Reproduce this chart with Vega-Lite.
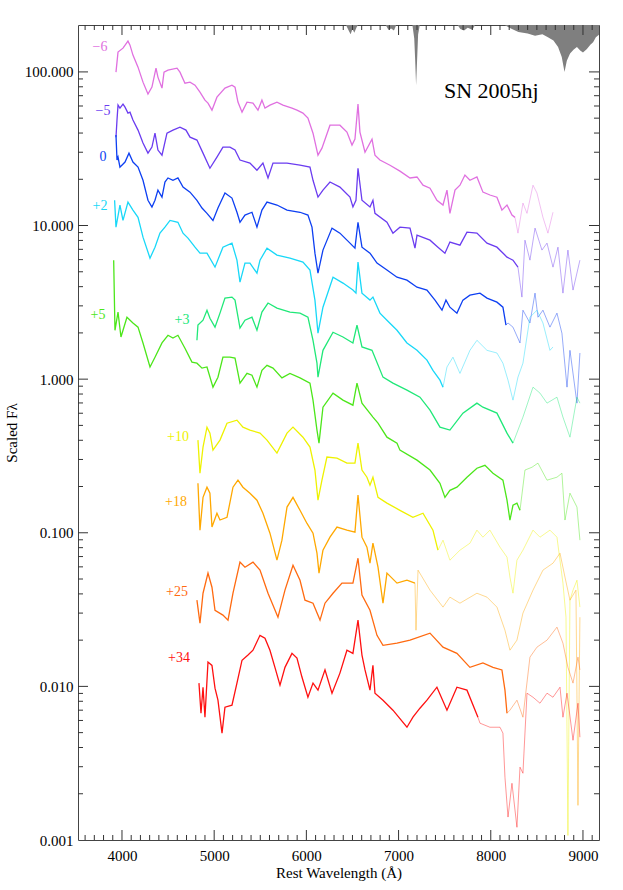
{
"$schema":"https://vega.github.io/schema/vega-lite/v6.json",
"width":521,"height":815,
"autosize":{"type":"none"},
"padding":{"left":78,"top":25,"right":24,"bottom":50},
"background":"white",
"config":{"view":{"stroke":"#444","strokeWidth":1},"font":"Liberation Serif","axis":{"grid":false,"ticks":false,"domain":false}},
"datasets":{
"xt":[{"w":3600,"m":"m"},{"w":3700,"m":"m"},{"w":3800,"m":"m"},{"w":3900,"m":"m"},{"w":4000,"m":"M"},{"w":4100,"m":"m"},{"w":4200,"m":"m"},{"w":4300,"m":"m"},{"w":4400,"m":"m"},{"w":4500,"m":"m"},{"w":4600,"m":"m"},{"w":4700,"m":"m"},{"w":4800,"m":"m"},{"w":4900,"m":"m"},{"w":5000,"m":"M"},{"w":5100,"m":"m"},{"w":5200,"m":"m"},{"w":5300,"m":"m"},{"w":5400,"m":"m"},{"w":5500,"m":"m"},{"w":5600,"m":"m"},{"w":5700,"m":"m"},{"w":5800,"m":"m"},{"w":5900,"m":"m"},{"w":6000,"m":"M"},{"w":6100,"m":"m"},{"w":6200,"m":"m"},{"w":6300,"m":"m"},{"w":6400,"m":"m"},{"w":6500,"m":"m"},{"w":6600,"m":"m"},{"w":6700,"m":"m"},{"w":6800,"m":"m"},{"w":6900,"m":"m"},{"w":7000,"m":"M"},{"w":7100,"m":"m"},{"w":7200,"m":"m"},{"w":7300,"m":"m"},{"w":7400,"m":"m"},{"w":7500,"m":"m"},{"w":7600,"m":"m"},{"w":7700,"m":"m"},{"w":7800,"m":"m"},{"w":7900,"m":"m"},{"w":8000,"m":"M"},{"w":8100,"m":"m"},{"w":8200,"m":"m"},{"w":8300,"m":"m"},{"w":8400,"m":"m"},{"w":8500,"m":"m"},{"w":8600,"m":"m"},{"w":8700,"m":"m"},{"w":8800,"m":"m"},{"w":8900,"m":"m"},{"w":9000,"m":"M"},{"w":9100,"m":"m"}],
"yt":[{"f":0.002,"m":"m"},{"f":0.003,"m":"m"},{"f":0.004,"m":"m"},{"f":0.005,"m":"m"},{"f":0.006,"m":"m"},{"f":0.007,"m":"m"},{"f":0.008,"m":"m"},{"f":0.009,"m":"m"},{"f":0.01,"m":"M"},{"f":0.02,"m":"m"},{"f":0.03,"m":"m"},{"f":0.04,"m":"m"},{"f":0.05,"m":"m"},{"f":0.06,"m":"m"},{"f":0.07,"m":"m"},{"f":0.08,"m":"m"},{"f":0.09,"m":"m"},{"f":0.1,"m":"M"},{"f":0.2,"m":"m"},{"f":0.3,"m":"m"},{"f":0.4,"m":"m"},{"f":0.5,"m":"m"},{"f":0.6,"m":"m"},{"f":0.7,"m":"m"},{"f":0.8,"m":"m"},{"f":0.9,"m":"m"},{"f":1,"m":"M"},{"f":2,"m":"m"},{"f":3,"m":"m"},{"f":4,"m":"m"},{"f":5,"m":"m"},{"f":6,"m":"m"},{"f":7,"m":"m"},{"f":8,"m":"m"},{"f":9,"m":"m"},{"f":10,"m":"M"},{"f":20,"m":"m"},{"f":30,"m":"m"},{"f":40,"m":"m"},{"f":50,"m":"m"},{"f":60,"m":"m"},{"f":70,"m":"m"},{"f":80,"m":"m"},{"f":90,"m":"m"},{"f":100,"m":"M"}],
"tell":[{"w":6430,"f":202},{"w":6460,"f":185},{"w":6480,"f":176},{"w":6500,"f":190},{"w":6520,"f":180},{"w":6545,"f":195},{"w":6560,"f":202},{"w":6860,"f":202},{"w":6890,"f":188},{"w":6920,"f":192},{"w":6950,"f":186},{"w":6975,"f":202},{"w":7150,"f":202},{"w":7170,"f":165},{"w":7180,"f":120},{"w":7190,"f":82},{"w":7200,"f":115},{"w":7212,"f":175},{"w":7230,"f":202},{"w":7640,"f":202},{"w":7670,"f":190},{"w":7710,"f":186},{"w":7750,"f":194},{"w":7800,"f":188},{"w":7830,"f":202},{"w":8150,"f":202},{"w":8230,"f":190},{"w":8300,"f":182},{"w":8400,"f":178},{"w":8480,"f":172},{"w":8560,"f":176},{"w":8620,"f":168},{"w":8680,"f":160},{"w":8730,"f":145},{"w":8770,"f":125},{"w":8800,"f":100},{"w":8825,"f":118},{"w":8860,"f":132},{"w":8900,"f":140},{"w":8935,"f":145},{"w":8970,"f":138},{"w":9000,"f":134},{"w":9043,"f":141},{"w":9080,"f":150},{"w":9110,"f":156},{"w":9140,"f":168},{"w":9180,"f":176}],
"lab":[{"t":"−6","e":"-6","w":3761,"f":145},{"t":"−5","e":"-5","w":3794,"f":55.6},{"t":"0","e":"0","w":3794,"f":27.9},{"t":"+2","e":"+2","w":3761,"f":13.4},{"t":"+5","e":"+5","w":3740,"f":2.61},{"t":"+3","e":"+3","w":4651,"f":2.42},{"t":"+10","e":"+10","w":4607,"f":0.419},{"t":"+18","e":"+18","w":4586,"f":0.158},{"t":"+25","e":"+25","w":4597,"f":0.041},{"t":"+34","e":"+34","w":4618,"f":0.0153}],
"sn":[{"t":"SN 2005hj","w":7492,"f":67.5}],
"spec":[
{"e":"-6","p":"a","w":3935,"f":99.7},{"e":"-6","p":"a","w":3957,"f":134.6},{"e":"-6","p":"a","w":4011,"f":142.8},{"e":"-6","p":"a","w":4065,"f":158.7},{"e":"-6","p":"a","w":4087,"f":149.4},{"e":"-6","p":"a","w":4119,"f":128.6},{"e":"-6","p":"a","w":4174,"f":107.4},{"e":"-6","p":"a","w":4228,"f":85.8},{"e":"-6","p":"a","w":4282,"f":71.7},{"e":"-6","p":"a","w":4325,"f":79.6},{"e":"-6","p":"a","w":4369,"f":105.8},{"e":"-6","p":"a","w":4390,"f":92.5},{"e":"-6","p":"a","w":4434,"f":78.4},{"e":"-6","p":"a","w":4456,"f":99.7},{"e":"-6","p":"a","w":4499,"f":102.7},{"e":"-6","p":"a","w":4597,"f":105.8},{"e":"-6","p":"a","w":4629,"f":99.7},{"e":"-6","p":"a","w":4683,"f":84.5},{"e":"-6","p":"a","w":4738,"f":85.8},{"e":"-6","p":"a","w":4792,"f":82.0},{"e":"-6","p":"a","w":4846,"f":73.9},{"e":"-6","p":"a","w":4900,"f":65.5},{"e":"-6","p":"a","w":4933,"f":62.6},{"e":"-6","p":"a","w":4976,"f":56.4},{"e":"-6","p":"a","w":5030,"f":68.5},{"e":"-6","p":"a","w":5117,"f":78.4},{"e":"-6","p":"a","w":5193,"f":82.0},{"e":"-6","p":"a","w":5226,"f":79.6},{"e":"-6","p":"a","w":5258,"f":63.6},{"e":"-6","p":"a","w":5302,"f":54.7},{"e":"-6","p":"a","w":5356,"f":63.6},{"e":"-6","p":"a","w":5421,"f":62.6},{"e":"-6","p":"a","w":5475,"f":56.4},{"e":"-6","p":"a","w":5518,"f":65.5},{"e":"-6","p":"a","w":5551,"f":58.1},{"e":"-6","p":"a","w":5605,"f":60.8},{"e":"-6","p":"a","w":5681,"f":63.6},{"e":"-6","p":"a","w":5746,"f":60.8},{"e":"-6","p":"a","w":5844,"f":58.1},{"e":"-6","p":"a","w":5898,"f":56.4},{"e":"-6","p":"a","w":5963,"f":53.9},{"e":"-6","p":"a","w":6017,"f":50.0},{"e":"-6","p":"a","w":6072,"f":39.9},{"e":"-6","p":"a","w":6126,"f":28.7},{"e":"-6","p":"a","w":6169,"f":31.9},{"e":"-6","p":"a","w":6256,"f":45.0},{"e":"-6","p":"a","w":6364,"f":45.0},{"e":"-6","p":"a","w":6440,"f":40.6},{"e":"-6","p":"a","w":6495,"f":33.4},{"e":"-6","p":"a","w":6527,"f":36.5},{"e":"-6","p":"a","w":6560,"f":61.7},{"e":"-6","p":"a","w":6581,"f":40.6},{"e":"-6","p":"a","w":6636,"f":30.0},{"e":"-6","p":"a","w":6712,"f":36.5},{"e":"-6","p":"a","w":6744,"f":28.7},{"e":"-6","p":"a","w":6798,"f":26.7},{"e":"-6","p":"a","w":6907,"f":24.7},{"e":"-6","p":"a","w":7015,"f":22.6},{"e":"-6","p":"a","w":7124,"f":20.4},{"e":"-6","p":"a","w":7200,"f":20.7},{"e":"-6","p":"a","w":7265,"f":18.3},{"e":"-6","p":"a","w":7341,"f":17.5},{"e":"-6","p":"a","w":7416,"f":14.6},{"e":"-6","p":"a","w":7482,"f":13.6},{"e":"-6","p":"a","w":7525,"f":17.0},{"e":"-6","p":"a","w":7557,"f":12.0},{"e":"-6","p":"a","w":7612,"f":17.0},{"e":"-6","p":"a","w":7666,"f":18.3},{"e":"-6","p":"a","w":7720,"f":21.3},{"e":"-6","p":"a","w":7774,"f":19.7},{"e":"-6","p":"a","w":7850,"f":20.7},{"e":"-6","p":"a","w":7915,"f":16.5},{"e":"-6","p":"a","w":7991,"f":15.8},{"e":"-6","p":"a","w":8067,"f":15.3},{"e":"-6","p":"a","w":8121,"f":12.6},{"e":"-6","p":"a","w":8176,"f":13.6},{"e":"-6","p":"a","w":8230,"f":11.7},{"e":"-6","p":"a","w":8263,"f":11.3},
{"e":"-6","p":"b","w":8263,"f":11.3},{"e":"-6","p":"b","w":8295,"f":8.92},{"e":"-6","p":"b","w":8349,"f":14.0},{"e":"-6","p":"b","w":8393,"f":12.0},{"e":"-6","p":"b","w":8458,"f":18.3},{"e":"-6","p":"b","w":8501,"f":16.3},{"e":"-6","p":"b","w":8566,"f":11.3},{"e":"-6","p":"b","w":8620,"f":8.92},{"e":"-6","p":"b","w":8675,"f":12.2},
{"e":"-5","p":"a","w":3935,"f":37.6},{"e":"-5","p":"a","w":3946,"f":48.6},{"e":"-5","p":"a","w":3957,"f":60.8},{"e":"-5","p":"a","w":3978,"f":58.1},{"e":"-5","p":"a","w":4011,"f":61.7},{"e":"-5","p":"a","w":4033,"f":59.0},{"e":"-5","p":"a","w":4065,"f":53.9},{"e":"-5","p":"a","w":4087,"f":54.7},{"e":"-5","p":"a","w":4119,"f":48.6},{"e":"-5","p":"a","w":4174,"f":41.8},{"e":"-5","p":"a","w":4228,"f":34.4},{"e":"-5","p":"a","w":4282,"f":29.6},{"e":"-5","p":"a","w":4325,"f":32.4},{"e":"-5","p":"a","w":4358,"f":39.9},{"e":"-5","p":"a","w":4390,"f":31.0},{"e":"-5","p":"a","w":4434,"f":28.7},{"e":"-5","p":"a","w":4488,"f":39.9},{"e":"-5","p":"a","w":4553,"f":41.8},{"e":"-5","p":"a","w":4629,"f":43.7},{"e":"-5","p":"a","w":4694,"f":41.8},{"e":"-5","p":"a","w":4738,"f":37.6},{"e":"-5","p":"a","w":4813,"f":36.0},{"e":"-5","p":"a","w":4879,"f":29.6},{"e":"-5","p":"a","w":4954,"f":23.6},{"e":"-5","p":"a","w":5030,"f":27.9},{"e":"-5","p":"a","w":5095,"f":32.4},{"e":"-5","p":"a","w":5171,"f":32.4},{"e":"-5","p":"a","w":5226,"f":31.0},{"e":"-5","p":"a","w":5280,"f":26.7},{"e":"-5","p":"a","w":5388,"f":25.5},{"e":"-5","p":"a","w":5464,"f":22.9},{"e":"-5","p":"a","w":5529,"f":25.5},{"e":"-5","p":"a","w":5584,"f":20.4},{"e":"-5","p":"a","w":5638,"f":25.5},{"e":"-5","p":"a","w":5790,"f":25.5},{"e":"-5","p":"a","w":5931,"f":24.7},{"e":"-5","p":"a","w":6039,"f":24.0},{"e":"-5","p":"a","w":6072,"f":19.7},{"e":"-5","p":"a","w":6126,"f":15.3},{"e":"-5","p":"a","w":6180,"f":17.0},{"e":"-5","p":"a","w":6256,"f":19.2},{"e":"-5","p":"a","w":6364,"f":17.8},{"e":"-5","p":"a","w":6473,"f":15.3},{"e":"-5","p":"a","w":6505,"f":13.2},{"e":"-5","p":"a","w":6538,"f":14.6},{"e":"-5","p":"a","w":6560,"f":23.6},{"e":"-5","p":"a","w":6603,"f":14.6},{"e":"-5","p":"a","w":6690,"f":13.2},{"e":"-5","p":"a","w":6722,"f":14.6},{"e":"-5","p":"a","w":6744,"f":12.0},{"e":"-5","p":"a","w":6874,"f":10.5},{"e":"-5","p":"a","w":6939,"f":8.92},{"e":"-5","p":"a","w":7015,"f":9.76},{"e":"-5","p":"a","w":7124,"f":9.62},{"e":"-5","p":"a","w":7178,"f":7.12},{"e":"-5","p":"a","w":7200,"f":8.66},{"e":"-5","p":"a","w":7341,"f":8.03},{"e":"-5","p":"a","w":7427,"f":7.23},{"e":"-5","p":"a","w":7503,"f":6.61},{"e":"-5","p":"a","w":7557,"f":7.80},{"e":"-5","p":"a","w":7666,"f":7.45},{"e":"-5","p":"a","w":7742,"f":9.06},{"e":"-5","p":"a","w":7850,"f":8.92},{"e":"-5","p":"a","w":7959,"f":7.68},{"e":"-5","p":"a","w":8067,"f":7.23},{"e":"-5","p":"a","w":8176,"f":6.23},{"e":"-5","p":"a","w":8241,"f":5.95},{"e":"-5","p":"a","w":8295,"f":5.36},
{"e":"-5","p":"b","w":8295,"f":5.36},{"e":"-5","p":"b","w":8338,"f":3.42},{"e":"-5","p":"b","w":8371,"f":8.03},{"e":"-5","p":"b","w":8425,"f":5.95},{"e":"-5","p":"b","w":8480,"f":9.62},{"e":"-5","p":"b","w":8555,"f":6.92},{"e":"-5","p":"b","w":8610,"f":7.68},{"e":"-5","p":"b","w":8675,"f":5.36},{"e":"-5","p":"b","w":8729,"f":7.23},{"e":"-5","p":"b","w":8783,"f":3.63},{"e":"-5","p":"b","w":8837,"f":6.92},{"e":"-5","p":"b","w":8892,"f":3.80},{"e":"-5","p":"b","w":8967,"f":5.95},
{"e":"0","p":"a","w":3935,"f":38.8},{"e":"0","p":"a","w":3946,"f":26.7},{"e":"0","p":"a","w":3957,"f":27.9},{"e":"0","p":"a","w":3978,"f":24.0},{"e":"0","p":"a","w":4033,"f":25.9},{"e":"0","p":"a","w":4076,"f":29.6},{"e":"0","p":"a","w":4119,"f":25.9},{"e":"0","p":"a","w":4174,"f":24.0},{"e":"0","p":"a","w":4228,"f":19.7},{"e":"0","p":"a","w":4282,"f":14.6},{"e":"0","p":"a","w":4325,"f":13.2},{"e":"0","p":"a","w":4358,"f":14.6},{"e":"0","p":"a","w":4390,"f":17.0},{"e":"0","p":"a","w":4434,"f":15.3},{"e":"0","p":"a","w":4466,"f":19.2},{"e":"0","p":"a","w":4499,"f":20.4},{"e":"0","p":"a","w":4553,"f":19.7},{"e":"0","p":"a","w":4607,"f":20.4},{"e":"0","p":"a","w":4662,"f":17.8},{"e":"0","p":"a","w":4738,"f":16.5},{"e":"0","p":"a","w":4813,"f":14.6},{"e":"0","p":"a","w":4868,"f":13.0},{"e":"0","p":"a","w":4922,"f":12.0},{"e":"0","p":"a","w":4987,"f":10.8},{"e":"0","p":"a","w":5041,"f":13.0},{"e":"0","p":"a","w":5117,"f":16.3},{"e":"0","p":"a","w":5193,"f":15.1},{"e":"0","p":"a","w":5247,"f":12.2},{"e":"0","p":"a","w":5280,"f":10.5},{"e":"0","p":"a","w":5334,"f":11.7},{"e":"0","p":"a","w":5410,"f":12.2},{"e":"0","p":"a","w":5464,"f":9.76},{"e":"0","p":"a","w":5518,"f":12.6},{"e":"0","p":"a","w":5573,"f":14.2},{"e":"0","p":"a","w":5681,"f":13.6},{"e":"0","p":"a","w":5790,"f":12.6},{"e":"0","p":"a","w":5931,"f":12.2},{"e":"0","p":"a","w":6017,"f":11.7},{"e":"0","p":"a","w":6061,"f":9.76},{"e":"0","p":"a","w":6093,"f":6.61},{"e":"0","p":"a","w":6126,"f":4.90},{"e":"0","p":"a","w":6180,"f":6.92},{"e":"0","p":"a","w":6278,"f":9.62},{"e":"0","p":"a","w":6364,"f":8.92},{"e":"0","p":"a","w":6473,"f":7.68},{"e":"0","p":"a","w":6527,"f":7.12},{"e":"0","p":"a","w":6560,"f":10.5},{"e":"0","p":"a","w":6603,"f":7.23},{"e":"0","p":"a","w":6690,"f":6.61},{"e":"0","p":"a","w":6766,"f":5.69},{"e":"0","p":"a","w":6874,"f":5.13},{"e":"0","p":"a","w":6983,"f":4.61},{"e":"0","p":"a","w":7091,"f":4.41},{"e":"0","p":"a","w":7200,"f":3.97},{"e":"0","p":"a","w":7308,"f":3.80},{"e":"0","p":"a","w":7395,"f":3.27},{"e":"0","p":"a","w":7471,"f":2.81},{"e":"0","p":"a","w":7514,"f":3.27},{"e":"0","p":"a","w":7557,"f":2.94},{"e":"0","p":"a","w":7633,"f":2.69},{"e":"0","p":"a","w":7698,"f":3.27},{"e":"0","p":"a","w":7774,"f":3.52},{"e":"0","p":"a","w":7883,"f":3.63},{"e":"0","p":"a","w":7959,"f":3.37},{"e":"0","p":"a","w":8067,"f":3.17},{"e":"0","p":"a","w":8132,"f":2.94},{"e":"0","p":"a","w":8165,"f":2.25},
{"e":"0","p":"b","w":8165,"f":2.25},{"e":"0","p":"b","w":8187,"f":2.32},{"e":"0","p":"b","w":8241,"f":2.18},{"e":"0","p":"b","w":8317,"f":1.72},{"e":"0","p":"b","w":8349,"f":2.81},{"e":"0","p":"b","w":8425,"f":2.32},{"e":"0","p":"b","w":8480,"f":3.63},{"e":"0","p":"b","w":8512,"f":2.53},{"e":"0","p":"b","w":8566,"f":2.81},{"e":"0","p":"b","w":8642,"f":2.18},{"e":"0","p":"b","w":8718,"f":2.69},{"e":"0","p":"b","w":8772,"f":1.99},{"e":"0","p":"b","w":8827,"f":0.887},{"e":"0","p":"b","w":8859,"f":1.54},{"e":"0","p":"b","w":8935,"f":0.698},{"e":"0","p":"b","w":8967,"f":1.48},
{"e":"+2","p":"a","w":3920,"f":14.6},{"e":"+2","p":"a","w":3935,"f":9.76},{"e":"+2","p":"a","w":3978,"f":13.6},{"e":"+2","p":"a","w":4011,"f":10.8},{"e":"+2","p":"a","w":4065,"f":14.2},{"e":"+2","p":"a","w":4119,"f":12.6},{"e":"+2","p":"a","w":4174,"f":11.3},{"e":"+2","p":"a","w":4228,"f":8.40},{"e":"+2","p":"a","w":4304,"f":6.13},{"e":"+2","p":"a","w":4358,"f":7.23},{"e":"+2","p":"a","w":4412,"f":8.92},{"e":"+2","p":"a","w":4466,"f":9.76},{"e":"+2","p":"a","w":4521,"f":10.8},{"e":"+2","p":"a","w":4607,"f":10.5},{"e":"+2","p":"a","w":4662,"f":8.92},{"e":"+2","p":"a","w":4716,"f":8.28},{"e":"+2","p":"a","w":4792,"f":7.23},{"e":"+2","p":"a","w":4846,"f":6.61},{"e":"+2","p":"a","w":4922,"f":6.61},{"e":"+2","p":"a","w":5009,"f":5.36},{"e":"+2","p":"a","w":5095,"f":7.23},{"e":"+2","p":"a","w":5193,"f":7.68},{"e":"+2","p":"a","w":5247,"f":5.95},{"e":"+2","p":"a","w":5280,"f":4.28},{"e":"+2","p":"a","w":5334,"f":5.69},{"e":"+2","p":"a","w":5388,"f":5.69},{"e":"+2","p":"a","w":5464,"f":4.90},{"e":"+2","p":"a","w":5497,"f":5.95},{"e":"+2","p":"a","w":5573,"f":7.12},{"e":"+2","p":"a","w":5681,"f":6.42},{"e":"+2","p":"a","w":5822,"f":6.13},{"e":"+2","p":"a","w":5963,"f":5.78},{"e":"+2","p":"a","w":6039,"f":5.13},{"e":"+2","p":"a","w":6093,"f":3.27},{"e":"+2","p":"a","w":6126,"f":1.99},{"e":"+2","p":"a","w":6180,"f":2.94},{"e":"+2","p":"a","w":6289,"f":4.61},{"e":"+2","p":"a","w":6397,"f":4.22},{"e":"+2","p":"a","w":6505,"f":3.80},{"e":"+2","p":"a","w":6538,"f":3.63},{"e":"+2","p":"a","w":6560,"f":5.78},{"e":"+2","p":"a","w":6603,"f":3.63},{"e":"+2","p":"a","w":6690,"f":3.27},{"e":"+2","p":"a","w":6722,"f":3.42},{"e":"+2","p":"a","w":6798,"f":2.69},{"e":"+2","p":"a","w":6874,"f":2.42},{"e":"+2","p":"a","w":6983,"f":2.08},{"e":"+2","p":"a","w":7091,"f":1.72},{"e":"+2","p":"a","w":7200,"f":1.54},{"e":"+2","p":"a","w":7308,"f":1.33},{"e":"+2","p":"a","w":7373,"f":1.14},{"e":"+2","p":"a","w":7449,"f":0.985},{"e":"+2","p":"a","w":7482,"f":0.887},
{"e":"+2","p":"b","w":7482,"f":0.887},{"e":"+2","p":"b","w":7525,"f":1.20},{"e":"+2","p":"b","w":7590,"f":1.39},{"e":"+2","p":"b","w":7666,"f":1.09},{"e":"+2","p":"b","w":7774,"f":1.54},{"e":"+2","p":"b","w":7850,"f":1.79},{"e":"+2","p":"b","w":7959,"f":1.54},{"e":"+2","p":"b","w":8067,"f":1.48},{"e":"+2","p":"b","w":8132,"f":1.27},{"e":"+2","p":"b","w":8187,"f":0.985},{"e":"+2","p":"b","w":8241,"f":0.730},{"e":"+2","p":"b","w":8295,"f":1.03},{"e":"+2","p":"b","w":8349,"f":1.27},{"e":"+2","p":"b","w":8425,"f":2.53},{"e":"+2","p":"b","w":8501,"f":2.81},{"e":"+2","p":"b","w":8566,"f":2.32},{"e":"+2","p":"b","w":8642,"f":1.54},{"e":"+2","p":"b","w":8675,"f":1.62},
{"e":"+5","p":"a","w":3910,"f":5.95},{"e":"+5","p":"a","w":3924,"f":2.08},{"e":"+5","p":"a","w":3957,"f":2.73},{"e":"+5","p":"a","w":3989,"f":1.88},{"e":"+5","p":"a","w":4054,"f":2.53},{"e":"+5","p":"a","w":4119,"f":2.32},{"e":"+5","p":"a","w":4174,"f":2.18},{"e":"+5","p":"a","w":4228,"f":1.72},{"e":"+5","p":"a","w":4304,"f":1.20},{"e":"+5","p":"a","w":4358,"f":1.39},{"e":"+5","p":"a","w":4434,"f":1.72},{"e":"+5","p":"a","w":4499,"f":1.93},{"e":"+5","p":"a","w":4553,"f":1.85},{"e":"+5","p":"a","w":4607,"f":1.93},{"e":"+5","p":"a","w":4683,"f":1.59},{"e":"+5","p":"a","w":4759,"f":1.29},{"e":"+5","p":"a","w":4813,"f":1.27},{"e":"+5","p":"a","w":4868,"f":1.18},{"e":"+5","p":"a","w":4922,"f":1.20},{"e":"+5","p":"a","w":4987,"f":0.887},{"e":"+5","p":"a","w":5041,"f":1.03},{"e":"+5","p":"a","w":5095,"f":1.39},{"e":"+5","p":"a","w":5171,"f":1.39},{"e":"+5","p":"a","w":5226,"f":1.37},{"e":"+5","p":"a","w":5280,"f":0.942},{"e":"+5","p":"a","w":5356,"f":1.09},{"e":"+5","p":"a","w":5410,"f":1.06},{"e":"+5","p":"a","w":5464,"f":0.887},{"e":"+5","p":"a","w":5518,"f":1.14},{"e":"+5","p":"a","w":5573,"f":1.23},{"e":"+5","p":"a","w":5638,"f":1.18},{"e":"+5","p":"a","w":5735,"f":1.02},{"e":"+5","p":"a","w":5822,"f":1.09},{"e":"+5","p":"a","w":5931,"f":1.02},{"e":"+5","p":"a","w":6039,"f":0.942},{"e":"+5","p":"a","w":6072,"f":0.730},{"e":"+5","p":"a","w":6115,"f":0.466},{"e":"+5","p":"a","w":6137,"f":0.383},{"e":"+5","p":"a","w":6180,"f":0.657},{"e":"+5","p":"a","w":6289,"f":0.811},{"e":"+5","p":"a","w":6397,"f":0.730},{"e":"+5","p":"a","w":6505,"f":0.677},{"e":"+5","p":"a","w":6549,"f":0.942},{"e":"+5","p":"a","w":6603,"f":0.698},{"e":"+5","p":"a","w":6722,"f":0.566},{"e":"+5","p":"a","w":6777,"f":0.517},{"e":"+5","p":"a","w":6874,"f":0.419},{"e":"+5","p":"a","w":6983,"f":0.383},{"e":"+5","p":"a","w":7015,"f":0.345},{"e":"+5","p":"a","w":7200,"f":0.297},{"e":"+5","p":"a","w":7341,"f":0.256},{"e":"+5","p":"a","w":7449,"f":0.210},{"e":"+5","p":"a","w":7503,"f":0.170},{"e":"+5","p":"a","w":7557,"f":0.189},{"e":"+5","p":"a","w":7633,"f":0.198},{"e":"+5","p":"a","w":7742,"f":0.230},{"e":"+5","p":"a","w":7850,"f":0.263},{"e":"+5","p":"a","w":7937,"f":0.275},{"e":"+5","p":"a","w":8024,"f":0.244},{"e":"+5","p":"a","w":8132,"f":0.220},{"e":"+5","p":"a","w":8176,"f":0.163},{"e":"+5","p":"a","w":8208,"f":0.121},{"e":"+5","p":"a","w":8241,"f":0.151},{"e":"+5","p":"a","w":8284,"f":0.156},{"e":"+5","p":"a","w":8317,"f":0.140},
{"e":"+5","p":"b","w":8317,"f":0.140},{"e":"+5","p":"b","w":8371,"f":0.256},{"e":"+5","p":"b","w":8447,"f":0.267},{"e":"+5","p":"b","w":8512,"f":0.284},{"e":"+5","p":"b","w":8610,"f":0.220},{"e":"+5","p":"b","w":8718,"f":0.230},{"e":"+5","p":"b","w":8772,"f":0.244},{"e":"+5","p":"b","w":8805,"f":0.121},{"e":"+5","p":"b","w":8859,"f":0.181},{"e":"+5","p":"b","w":8935,"f":0.147},{"e":"+5","p":"b","w":8967,"f":0.0895},
{"e":"+3","p":"a","w":4813,"f":1.79},{"e":"+3","p":"a","w":4824,"f":2.25},{"e":"+3","p":"a","w":4879,"f":2.42},{"e":"+3","p":"a","w":4922,"f":2.81},{"e":"+3","p":"a","w":4954,"f":2.49},{"e":"+3","p":"a","w":5009,"f":2.18},{"e":"+3","p":"a","w":5063,"f":2.69},{"e":"+3","p":"a","w":5117,"f":3.37},{"e":"+3","p":"a","w":5193,"f":3.42},{"e":"+3","p":"a","w":5226,"f":3.27},{"e":"+3","p":"a","w":5280,"f":2.15},{"e":"+3","p":"a","w":5334,"f":2.42},{"e":"+3","p":"a","w":5410,"f":2.53},{"e":"+3","p":"a","w":5464,"f":2.08},{"e":"+3","p":"a","w":5518,"f":2.73},{"e":"+3","p":"a","w":5584,"f":3.13},{"e":"+3","p":"a","w":5681,"f":2.90},{"e":"+3","p":"a","w":5822,"f":2.73},{"e":"+3","p":"a","w":5931,"f":2.69},{"e":"+3","p":"a","w":6017,"f":2.53},{"e":"+3","p":"a","w":6072,"f":1.79},{"e":"+3","p":"a","w":6115,"f":1.27},{"e":"+3","p":"a","w":6126,"f":1.03},{"e":"+3","p":"a","w":6180,"f":1.54},{"e":"+3","p":"a","w":6289,"f":2.02},{"e":"+3","p":"a","w":6397,"f":1.88},{"e":"+3","p":"a","w":6505,"f":1.72},{"e":"+3","p":"a","w":6549,"f":2.25},{"e":"+3","p":"a","w":6603,"f":1.62},{"e":"+3","p":"a","w":6712,"f":1.54},{"e":"+3","p":"a","w":6831,"f":1.03},{"e":"+3","p":"a","w":6939,"f":0.942},{"e":"+3","p":"a","w":7091,"f":0.848},{"e":"+3","p":"a","w":7232,"f":0.763},{"e":"+3","p":"a","w":7341,"f":0.628},{"e":"+3","p":"a","w":7449,"f":0.487},{"e":"+3","p":"a","w":7557,"f":0.466},{"e":"+3","p":"a","w":7698,"f":0.601},{"e":"+3","p":"a","w":7850,"f":0.698},{"e":"+3","p":"a","w":7915,"f":0.657},{"e":"+3","p":"a","w":8067,"f":0.601},{"e":"+3","p":"a","w":8176,"f":0.445},{"e":"+3","p":"a","w":8241,"f":0.383},
{"e":"+3","p":"b","w":8241,"f":0.383},{"e":"+3","p":"b","w":8349,"f":0.566},{"e":"+3","p":"b","w":8458,"f":0.887},{"e":"+3","p":"b","w":8534,"f":0.811},{"e":"+3","p":"b","w":8610,"f":0.698},{"e":"+3","p":"b","w":8718,"f":0.763},{"e":"+3","p":"b","w":8783,"f":0.566},{"e":"+3","p":"b","w":8859,"f":0.419},{"e":"+3","p":"b","w":8935,"f":0.763},{"e":"+3","p":"b","w":8967,"f":0.698},
{"e":"+10","p":"a","w":4824,"f":0.401},{"e":"+10","p":"a","w":4846,"f":0.244},{"e":"+10","p":"a","w":4879,"f":0.361},{"e":"+10","p":"a","w":4922,"f":0.487},{"e":"+10","p":"a","w":4954,"f":0.445},{"e":"+10","p":"a","w":4987,"f":0.345},{"e":"+10","p":"a","w":5063,"f":0.401},{"e":"+10","p":"a","w":5139,"f":0.517},{"e":"+10","p":"a","w":5247,"f":0.541},{"e":"+10","p":"a","w":5312,"f":0.487},{"e":"+10","p":"a","w":5388,"f":0.466},{"e":"+10","p":"a","w":5497,"f":0.445},{"e":"+10","p":"a","w":5573,"f":0.401},{"e":"+10","p":"a","w":5681,"f":0.330},{"e":"+10","p":"a","w":5790,"f":0.445},{"e":"+10","p":"a","w":5855,"f":0.487},{"e":"+10","p":"a","w":5963,"f":0.419},{"e":"+10","p":"a","w":6039,"f":0.361},{"e":"+10","p":"a","w":6093,"f":0.256},{"e":"+10","p":"a","w":6126,"f":0.163},{"e":"+10","p":"a","w":6169,"f":0.220},{"e":"+10","p":"a","w":6223,"f":0.311},{"e":"+10","p":"a","w":6332,"f":0.306},{"e":"+10","p":"a","w":6440,"f":0.284},{"e":"+10","p":"a","w":6527,"f":0.284},{"e":"+10","p":"a","w":6560,"f":0.383},{"e":"+10","p":"a","w":6603,"f":0.256},{"e":"+10","p":"a","w":6657,"f":0.230},{"e":"+10","p":"a","w":6690,"f":0.204},{"e":"+10","p":"a","w":6722,"f":0.230},{"e":"+10","p":"a","w":6777,"f":0.170},{"e":"+10","p":"a","w":6874,"f":0.156},{"e":"+10","p":"a","w":7015,"f":0.140},{"e":"+10","p":"a","w":7156,"f":0.126},{"e":"+10","p":"a","w":7265,"f":0.134},{"e":"+10","p":"a","w":7373,"f":0.104},{"e":"+10","p":"a","w":7427,"f":0.077},
{"e":"+10","p":"b","w":7427,"f":0.077},{"e":"+10","p":"b","w":7482,"f":0.0895},{"e":"+10","p":"b","w":7557,"f":0.0663},{"e":"+10","p":"b","w":7666,"f":0.077},{"e":"+10","p":"b","w":7774,"f":0.0855},{"e":"+10","p":"b","w":7850,"f":0.104},{"e":"+10","p":"b","w":7915,"f":0.0936},{"e":"+10","p":"b","w":7991,"f":0.104},{"e":"+10","p":"b","w":8100,"f":0.0806},{"e":"+10","p":"b","w":8176,"f":0.0694},{"e":"+10","p":"b","w":8208,"f":0.0514},{"e":"+10","p":"b","w":8241,"f":0.0404},{"e":"+10","p":"b","w":8284,"f":0.0663},{"e":"+10","p":"b","w":8349,"f":0.077},{"e":"+10","p":"b","w":8458,"f":0.104},{"e":"+10","p":"b","w":8534,"f":0.0936},{"e":"+10","p":"b","w":8642,"f":0.104},{"e":"+10","p":"b","w":8718,"f":0.0936},{"e":"+10","p":"b","w":8783,"f":0.047},{"e":"+10","p":"b","w":8816,"f":0.0282},{"e":"+10","p":"b","w":8837,"f":0.00107},{"e":"+10","p":"b","w":8859,"f":0.0364},{"e":"+10","p":"b","w":8892,"f":0.0423},{"e":"+10","p":"b","w":8935,"f":0.0491},{"e":"+10","p":"b","w":8967,"f":0.0328},
{"e":"+18","p":"a","w":4824,"f":0.210},{"e":"+18","p":"a","w":4846,"f":0.104},{"e":"+18","p":"a","w":4879,"f":0.170},{"e":"+18","p":"a","w":4922,"f":0.198},{"e":"+18","p":"a","w":4954,"f":0.181},{"e":"+18","p":"a","w":4976,"f":0.109},{"e":"+18","p":"a","w":5030,"f":0.134},{"e":"+18","p":"a","w":5063,"f":0.121},{"e":"+18","p":"a","w":5139,"f":0.126},{"e":"+18","p":"a","w":5204,"f":0.198},{"e":"+18","p":"a","w":5258,"f":0.220},{"e":"+18","p":"a","w":5312,"f":0.198},{"e":"+18","p":"a","w":5388,"f":0.181},{"e":"+18","p":"a","w":5464,"f":0.163},{"e":"+18","p":"a","w":5529,"f":0.134},{"e":"+18","p":"a","w":5605,"f":0.0994},{"e":"+18","p":"a","w":5681,"f":0.0663},{"e":"+18","p":"a","w":5735,"f":0.0895},{"e":"+18","p":"a","w":5790,"f":0.147},{"e":"+18","p":"a","w":5855,"f":0.170},{"e":"+18","p":"a","w":5931,"f":0.140},{"e":"+18","p":"a","w":6007,"f":0.115},{"e":"+18","p":"a","w":6072,"f":0.0994},{"e":"+18","p":"a","w":6115,"f":0.0736},{"e":"+18","p":"a","w":6137,"f":0.0546},{"e":"+18","p":"a","w":6180,"f":0.077},{"e":"+18","p":"a","w":6256,"f":0.0936},{"e":"+18","p":"a","w":6332,"f":0.109},{"e":"+18","p":"a","w":6440,"f":0.104},{"e":"+18","p":"a","w":6527,"f":0.101},{"e":"+18","p":"a","w":6560,"f":0.176},{"e":"+18","p":"a","w":6603,"f":0.0936},{"e":"+18","p":"a","w":6657,"f":0.0806},{"e":"+18","p":"a","w":6690,"f":0.0634},{"e":"+18","p":"a","w":6722,"f":0.0855},{"e":"+18","p":"a","w":6777,"f":0.0597},{"e":"+18","p":"a","w":6831,"f":0.0348},{"e":"+18","p":"a","w":6874,"f":0.0546},{"e":"+18","p":"a","w":6983,"f":0.047},{"e":"+18","p":"a","w":7091,"f":0.0491},{"e":"+18","p":"a","w":7178,"f":0.047},
{"e":"+18","p":"b","w":7178,"f":0.047},{"e":"+18","p":"b","w":7189,"f":0.0232},{"e":"+18","p":"b","w":7211,"f":0.0571},{"e":"+18","p":"b","w":7341,"f":0.0423},{"e":"+18","p":"b","w":7482,"f":0.0328},{"e":"+18","p":"b","w":7557,"f":0.0381},{"e":"+18","p":"b","w":7666,"f":0.0348},{"e":"+18","p":"b","w":7850,"f":0.0404},{"e":"+18","p":"b","w":7959,"f":0.0381},{"e":"+18","p":"b","w":8067,"f":0.0328},{"e":"+18","p":"b","w":8154,"f":0.0232},{"e":"+18","p":"b","w":8208,"f":0.0172},{"e":"+18","p":"b","w":8284,"f":0.02},{"e":"+18","p":"b","w":8349,"f":0.03},{"e":"+18","p":"b","w":8458,"f":0.0423},{"e":"+18","p":"b","w":8566,"f":0.0571},{"e":"+18","p":"b","w":8675,"f":0.0634},{"e":"+18","p":"b","w":8751,"f":0.0736},{"e":"+18","p":"b","w":8805,"f":0.0514},{"e":"+18","p":"b","w":8859,"f":0.0364},{"e":"+18","p":"b","w":8924,"f":0.0423},{"e":"+18","p":"b","w":8946,"f":0.00168},{"e":"+18","p":"b","w":8967,"f":0.0282},
{"e":"+25","p":"a","w":4813,"f":0.0364},{"e":"+25","p":"a","w":4846,"f":0.0258},{"e":"+25","p":"a","w":4879,"f":0.0404},{"e":"+25","p":"a","w":4933,"f":0.0546},{"e":"+25","p":"a","w":4976,"f":0.0442},{"e":"+25","p":"a","w":5009,"f":0.0313},{"e":"+25","p":"a","w":5095,"f":0.0291},{"e":"+25","p":"a","w":5150,"f":0.027},{"e":"+25","p":"a","w":5204,"f":0.0404},{"e":"+25","p":"a","w":5280,"f":0.0644},{"e":"+25","p":"a","w":5334,"f":0.0597},{"e":"+25","p":"a","w":5421,"f":0.0644},{"e":"+25","p":"a","w":5497,"f":0.0571},{"e":"+25","p":"a","w":5584,"f":0.0404},{"e":"+25","p":"a","w":5692,"f":0.0282},{"e":"+25","p":"a","w":5768,"f":0.0423},{"e":"+25","p":"a","w":5855,"f":0.0615},{"e":"+25","p":"a","w":5931,"f":0.0491},{"e":"+25","p":"a","w":5985,"f":0.0364},{"e":"+25","p":"a","w":6072,"f":0.0348},{"e":"+25","p":"a","w":6148,"f":0.027},{"e":"+25","p":"a","w":6202,"f":0.0348},{"e":"+25","p":"a","w":6289,"f":0.0404},{"e":"+25","p":"a","w":6386,"f":0.047},{"e":"+25","p":"a","w":6505,"f":0.047},{"e":"+25","p":"a","w":6560,"f":0.0683},{"e":"+25","p":"a","w":6603,"f":0.0393},{"e":"+25","p":"a","w":6690,"f":0.0313},{"e":"+25","p":"a","w":6766,"f":0.0215},{"e":"+25","p":"a","w":6831,"f":0.0185},{"e":"+25","p":"a","w":6983,"f":0.0191},{"e":"+25","p":"a","w":7124,"f":0.02},{"e":"+25","p":"a","w":7341,"f":0.0222},{"e":"+25","p":"a","w":7482,"f":0.018},{"e":"+25","p":"a","w":7633,"f":0.0164},{"e":"+25","p":"a","w":7774,"f":0.0133},{"e":"+25","p":"a","w":7915,"f":0.0142},{"e":"+25","p":"a","w":8024,"f":0.0133},{"e":"+25","p":"a","w":8121,"f":0.0128},{"e":"+25","p":"a","w":8154,"f":0.00945},{"e":"+25","p":"a","w":8176,"f":0.00669},
{"e":"+25","p":"b","w":8176,"f":0.00669},{"e":"+25","p":"b","w":8208,"f":0.007},{"e":"+25","p":"b","w":8284,"f":0.00813},{"e":"+25","p":"b","w":8349,"f":0.0063},{"e":"+25","p":"b","w":8425,"f":0.0155},{"e":"+25","p":"b","w":8501,"f":0.018},{"e":"+25","p":"b","w":8610,"f":0.02},{"e":"+25","p":"b","w":8718,"f":0.0243},{"e":"+25","p":"b","w":8783,"f":0.0191},{"e":"+25","p":"b","w":8837,"f":0.0133},{"e":"+25","p":"b","w":8892,"f":0.0105},{"e":"+25","p":"b","w":8946,"f":0.0155},{"e":"+25","p":"b","w":8967,"f":0.0128},
{"e":"+34","p":"a","w":4835,"f":0.0105},{"e":"+34","p":"a","w":4857,"f":0.00669},{"e":"+34","p":"a","w":4879,"f":0.00988},{"e":"+34","p":"a","w":4900,"f":0.0063},{"e":"+34","p":"a","w":4933,"f":0.0144},{"e":"+34","p":"a","w":4976,"f":0.0137},{"e":"+34","p":"a","w":5009,"f":0.00973},{"e":"+34","p":"a","w":5041,"f":0.00813},{"e":"+34","p":"a","w":5085,"f":0.00496},{"e":"+34","p":"a","w":5117,"f":0.00732},{"e":"+34","p":"a","w":5193,"f":0.00755},{"e":"+34","p":"a","w":5247,"f":0.0105},{"e":"+34","p":"a","w":5302,"f":0.0148},{"e":"+34","p":"a","w":5367,"f":0.016},{"e":"+34","p":"a","w":5421,"f":0.0172},{"e":"+34","p":"a","w":5497,"f":0.0215},{"e":"+34","p":"a","w":5551,"f":0.0206},{"e":"+34","p":"a","w":5605,"f":0.0172},{"e":"+34","p":"a","w":5659,"f":0.0133},{"e":"+34","p":"a","w":5714,"f":0.0102},{"e":"+34","p":"a","w":5768,"f":0.0133},{"e":"+34","p":"a","w":5844,"f":0.0164},{"e":"+34","p":"a","w":5898,"f":0.0153},{"e":"+34","p":"a","w":5952,"f":0.0115},{"e":"+34","p":"a","w":6017,"f":0.0085},{"e":"+34","p":"a","w":6072,"f":0.0105},{"e":"+34","p":"a","w":6126,"f":0.00945},{"e":"+34","p":"a","w":6202,"f":0.0128},{"e":"+34","p":"a","w":6278,"f":0.00903},{"e":"+34","p":"a","w":6364,"f":0.0122},{"e":"+34","p":"a","w":6440,"f":0.0172},{"e":"+34","p":"a","w":6505,"f":0.0164},{"e":"+34","p":"a","w":6560,"f":0.027},{"e":"+34","p":"a","w":6603,"f":0.016},{"e":"+34","p":"a","w":6636,"f":0.0128},{"e":"+34","p":"a","w":6690,"f":0.00945},{"e":"+34","p":"a","w":6722,"f":0.0137},{"e":"+34","p":"a","w":6744,"f":0.00903},{"e":"+34","p":"a","w":6831,"f":0.00813},{"e":"+34","p":"a","w":6939,"f":0.007},{"e":"+34","p":"a","w":7091,"f":0.00542},{"e":"+34","p":"a","w":7156,"f":0.0063},{"e":"+34","p":"a","w":7232,"f":0.00721},{"e":"+34","p":"a","w":7308,"f":0.00813},{"e":"+34","p":"a","w":7416,"f":0.00988},{"e":"+34","p":"a","w":7525,"f":0.007},{"e":"+34","p":"a","w":7633,"f":0.00988},{"e":"+34","p":"a","w":7742,"f":0.00945},{"e":"+34","p":"a","w":7861,"f":0.0063},
{"e":"+34","p":"b","w":7861,"f":0.0063},{"e":"+34","p":"b","w":7883,"f":0.00576},{"e":"+34","p":"b","w":7991,"f":0.00542},{"e":"+34","p":"b","w":8100,"f":0.00542},{"e":"+34","p":"b","w":8132,"f":0.00496},{"e":"+34","p":"b","w":8154,"f":0.00256},{"e":"+34","p":"b","w":8187,"f":0.00141},{"e":"+34","p":"b","w":8230,"f":0.00234},{"e":"+34","p":"b","w":8284,"f":0.00121},{"e":"+34","p":"b","w":8317,"f":0.00298},{"e":"+34","p":"b","w":8349,"f":0.00272},{"e":"+34","p":"b","w":8393,"f":0.00903},{"e":"+34","p":"b","w":8458,"f":0.0085},{"e":"+34","p":"b","w":8534,"f":0.00777},{"e":"+34","p":"b","w":8610,"f":0.00903},{"e":"+34","p":"b","w":8675,"f":0.0085},{"e":"+34","p":"b","w":8751,"f":0.00988},{"e":"+34","p":"b","w":8783,"f":0.0063},{"e":"+34","p":"b","w":8827,"f":0.00903},{"e":"+34","p":"b","w":8892,"f":0.00446},{"e":"+34","p":"b","w":8946,"f":0.00777},{"e":"+34","p":"b","w":8967,"f":0.00467}
]},
"resolve":{"axis":{"x":"independent","y":"independent"}},
"layer":[
{"data":{"name":"tell"},"mark":{"type":"area","color":"#7f7f7f","clip":true},
 "encoding":{
  "x":{"field":"w","type":"quantitative","scale":{"domain":[3523,9174],"nice":false,"zero":false},
   "axis":{"orient":"bottom","values":[4000,5000,6000,7000,8000,9000],"format":"d","labelOverlap":false,"labelFlush":false,
    "labelPadding":8,"labelFont":"Liberation Serif","labelFontSize":15,"labelColor":"#000",
    "title":"Rest Wavelength (Å)","titleFont":"Liberation Serif","titleFontSize":15,"titleFontWeight":"normal","titleColor":"#000","titlePadding":2}},
  "y":{"field":"f","type":"quantitative","scale":{"type":"log","domain":[0.001,202],"nice":false},
   "axis":{"orient":"left","values":[0.001,0.01,0.1,1,10,100],"format":".3f","labelOverlap":false,"labelFlush":false,
    "labelPadding":5,"labelFont":"Liberation Serif","labelFontSize":15,"labelColor":"#000","labelBaseline":"middle",
    "title":"Scaled Fλ","titleFont":"Liberation Serif","titleFontSize":15,"titleFontWeight":"normal","titleColor":"#000","titlePadding":5}},
  "y2":{"datum":202}
 }},
{"data":{"name":"spec"},"mark":{"type":"line","clip":true},
 "encoding":{
  "x":{"field":"w","type":"quantitative","scale":{"domain":[3523,9174],"nice":false,"zero":false},"axis":null},
  "y":{"field":"f","type":"quantitative","scale":{"type":"log","domain":[0.001,202],"nice":false},"axis":null},
  "color":{"field":"e","type":"nominal","scale":{"domain":["-6","-5","0","+2","+3","+5","+10","+18","+25","+34"],"range":["#e070e0","#6b3cf0","#0d3ff2","#18d8f8","#20e878","#4ce61a","#eef200","#ffa800","#ff6a10","#ff1010"]},"legend":null},
  "strokeWidth":{"field":"p","type":"nominal","scale":{"domain":["a","b"],"range":[1.3,0.8]},"legend":null},
  "opacity":{"field":"p","type":"nominal","scale":{"domain":["a","b"],"range":[1,0.55]},"legend":null}
 }},
{"data":{"name":"lab"},"mark":{"type":"text","font":"Liberation Serif","fontSize":14,"align":"center","baseline":"middle"},
 "encoding":{
  "x":{"field":"w","type":"quantitative","scale":{"domain":[3523,9174],"nice":false,"zero":false},"axis":null},
  "y":{"field":"f","type":"quantitative","scale":{"type":"log","domain":[0.001,202],"nice":false},"axis":null},
  "text":{"field":"t"},
  "color":{"field":"e","type":"nominal","scale":{"domain":["-6","-5","0","+2","+3","+5","+10","+18","+25","+34"],"range":["#e070e0","#6b3cf0","#0d3ff2","#18d8f8","#20e878","#4ce61a","#eef200","#ffa800","#ff6a10","#ff1010"]},"legend":null}
 }},
{"data":{"name":"sn"},"mark":{"type":"text","font":"Liberation Serif","fontSize":22,"align":"left","baseline":"alphabetic","color":"#000"},
 "encoding":{
  "x":{"field":"w","type":"quantitative","scale":{"domain":[3523,9174],"nice":false,"zero":false},"axis":null},
  "y":{"field":"f","type":"quantitative","scale":{"type":"log","domain":[0.001,202],"nice":false},"axis":null},
  "text":{"field":"t"}
 }},
{"data":{"name":"xt"},"mark":{"type":"tick","orient":"vertical","thickness":1,"color":"#333","opacity":1,"clip":true},
 "encoding":{
  "x":{"field":"w","type":"quantitative","scale":{"domain":[3523,9174],"nice":false,"zero":false},"axis":null},
  "y":{"datum":0.001,"type":"quantitative","scale":{"type":"log","domain":[0.001,202],"nice":false},"axis":null},
  "size":{"field":"m","type":"ordinal","scale":{"domain":["M","m"],"range":[20,10]},"legend":null}
 }},
{"data":{"name":"xt"},"mark":{"type":"tick","orient":"vertical","thickness":1,"color":"#333","opacity":1,"clip":true},
 "encoding":{
  "x":{"field":"w","type":"quantitative","scale":{"domain":[3523,9174],"nice":false,"zero":false},"axis":null},
  "y":{"datum":202,"type":"quantitative","scale":{"type":"log","domain":[0.001,202],"nice":false},"axis":null},
  "size":{"field":"m","type":"ordinal","scale":{"domain":["M","m"],"range":[20,10]},"legend":null}
 }},
{"data":{"name":"yt"},"mark":{"type":"tick","orient":"horizontal","thickness":1,"color":"#333","opacity":1,"clip":true},
 "encoding":{
  "y":{"field":"f","type":"quantitative","scale":{"type":"log","domain":[0.001,202],"nice":false},"axis":null},
  "x":{"datum":3523,"type":"quantitative","scale":{"domain":[3523,9174],"nice":false,"zero":false},"axis":null},
  "size":{"field":"m","type":"ordinal","scale":{"domain":["M","m"],"range":[20,10]},"legend":null}
 }},
{"data":{"name":"yt"},"mark":{"type":"tick","orient":"horizontal","thickness":1,"color":"#333","opacity":1,"clip":true},
 "encoding":{
  "y":{"field":"f","type":"quantitative","scale":{"type":"log","domain":[0.001,202],"nice":false},"axis":null},
  "x":{"datum":9174,"type":"quantitative","scale":{"domain":[3523,9174],"nice":false,"zero":false},"axis":null},
  "size":{"field":"m","type":"ordinal","scale":{"domain":["M","m"],"range":[20,10]},"legend":null}
 }}
]
}
